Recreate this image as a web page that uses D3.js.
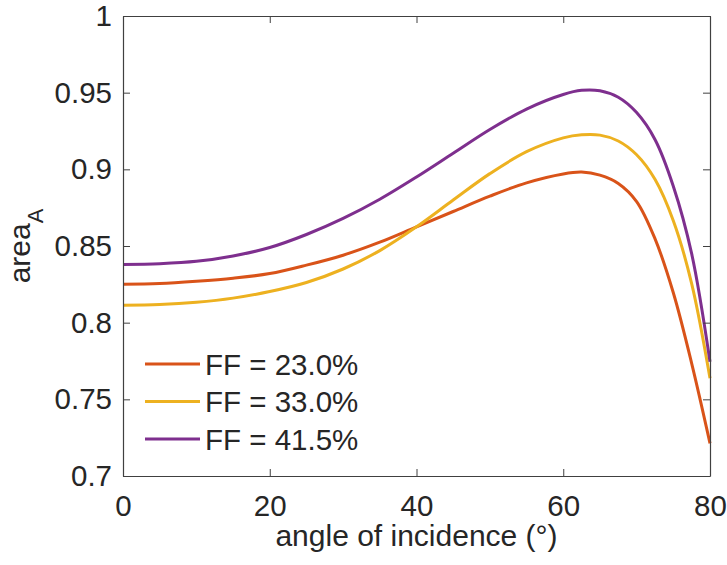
<!DOCTYPE html>
<html>
<head>
<meta charset="utf-8">
<script src="https://cdn.jsdelivr.net/npm/d3@7"></script>
<style>
  html, body { margin: 0; padding: 0; background: #fff; }
  svg { display: block; }
  text { font-family: "Liberation Sans", Arial, Helvetica, sans-serif; fill: #262626; }
</style>
</head>
<body>
<script>
// Angle of incidence samples (degrees), finer near the peak and the fall-off
const angles = [0, 5, 10, 15, 20, 25, 30, 35, 40, 45, 50, 55, 60, 62.5, 65, 67.5, 70, 72.5, 75, 77.5, 80];

// area_A for each fill factor
const ff230 = [0.825, 0.8255, 0.827, 0.829, 0.832, 0.8375, 0.844, 0.8525, 0.8625, 0.8725, 0.8825, 0.8912, 0.8970, 0.8982, 0.8962, 0.8908, 0.8790, 0.8548, 0.8195, 0.7735, 0.7213];
const ff330 = [0.8113, 0.8118, 0.8133, 0.8160, 0.8203, 0.8262, 0.8350, 0.8470, 0.8625, 0.8800, 0.8972, 0.9115, 0.9205, 0.9225, 0.9223, 0.9185, 0.9095, 0.8935, 0.8665, 0.8255, 0.7637];
const ff415 = [0.838, 0.8385, 0.840, 0.8435, 0.849, 0.8575, 0.868, 0.8805, 0.895, 0.9105, 0.926, 0.9393, 0.9488, 0.9515, 0.9512, 0.9470, 0.9370, 0.9195, 0.8890, 0.8450, 0.7745];

const seriesNames = ["FF = 23.0%", "FF = 33.0%", "FF = 41.5%"];
const seriesColors = ["#D95319", "#EDB120", "#7E2F8E"];
const seriesValues = [ff230, ff330, ff415];

const xTicks = [0, 20, 40, 60, 80];
const yTicks = [0.7, 0.75, 0.8, 0.85, 0.9, 0.95, 1];

const W = 727, H = 565;
const mLeft = 123, mRight = 710, mTop = 16, mBottom = 476;

const svg = d3.select("body").append("svg").attr("width", W).attr("height", H);

const x = d3.scaleLinear().domain([0, 80]).range([mLeft, mRight]);
const y = d3.scaleLinear().domain([0.7, 1]).range([mBottom, mTop]);

const axisColor = "#404040";
const tickLen = 7;
const fmt = d => String(+d.toFixed(2));

// data lines
const line = d3.line()
  .x(d => x(d[0]))
  .y(d => y(d[1]))
  .curve(d3.curveCatmullRom.alpha(0.5));

const plot = svg.append("g");
seriesValues.forEach((vals, i) => {
  plot.append("path")
    .datum(angles.map((a, j) => [a, vals[j]]))
    .attr("d", line)
    .attr("fill", "none")
    .attr("stroke", seriesColors[i])
    .attr("stroke-width", 3)
    .attr("stroke-linejoin", "round");
});

// axes: ticks inward on all four sides, box around the plot
const fs = 29.5;
const xBottom = svg.append("g").attr("transform", `translate(0,${mBottom})`)
  .call(d3.axisBottom(x).tickValues(xTicks).tickSizeInner(-tickLen).tickSizeOuter(0).tickPadding(19).tickFormat(d3.format("d")));
const xTop = svg.append("g").attr("transform", `translate(0,${mTop})`)
  .call(d3.axisTop(x).tickValues(xTicks).tickSizeInner(-tickLen).tickSizeOuter(0).tickFormat(""));
const yLeft = svg.append("g").attr("transform", `translate(${mLeft},0)`)
  .call(d3.axisLeft(y).tickValues(yTicks).tickSizeInner(-tickLen).tickSizeOuter(0).tickPadding(11).tickFormat(fmt));
const yRight = svg.append("g").attr("transform", `translate(${mRight},0)`)
  .call(d3.axisRight(y).tickValues(yTicks).tickSizeInner(-tickLen).tickSizeOuter(0).tickFormat(""));

[xBottom, xTop, yLeft, yRight].forEach(g => {
  g.select(".domain").attr("stroke", axisColor).attr("stroke-width", 1.2);
  g.selectAll(".tick line").attr("stroke", axisColor).attr("stroke-width", 1);
  g.selectAll(".tick text")
    .attr("font-size", fs)
    .attr("font-family", '"Liberation Sans", Arial, sans-serif')
    .attr("fill", "#262626");
});

// axis titles
svg.append("text")
  .attr("x", (mLeft + mRight) / 2)
  .attr("y", 546)
  .attr("text-anchor", "middle")
  .attr("font-size", 30)
  .text("angle of incidence (°)");

const yl = svg.append("text")
  .attr("transform", `translate(30,${(mTop + mBottom) / 2}) rotate(-90)`)
  .attr("text-anchor", "middle")
  .attr("font-size", 30);
yl.append("tspan").text("area");
yl.append("tspan").attr("font-size", 22).attr("dy", 13).text("A");

// legend
const legend = svg.append("g");
seriesNames.forEach((name, i) => {
  const ly = 364 + i * 37.5;
  legend.append("line")
    .attr("x1", 145).attr("x2", 200)
    .attr("y1", ly).attr("y2", ly)
    .attr("stroke", seriesColors[i])
    .attr("stroke-width", 3);
  legend.append("text")
    .attr("x", 205)
    .attr("y", ly)
    .attr("dy", "0.36em")
    .attr("font-size", fs)
    .attr("fill", "#000")
    .text(name);
});
</script>
</body>
</html>
